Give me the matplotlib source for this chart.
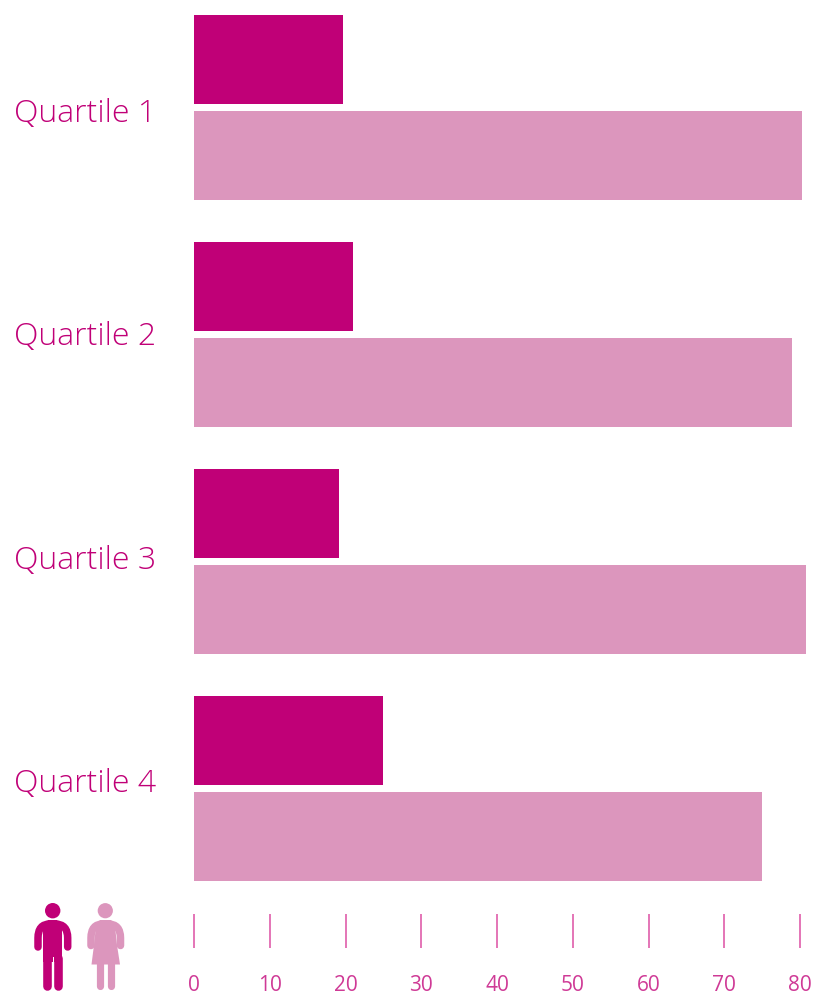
import matplotlib
matplotlib.use('Agg')
import matplotlib.pyplot as plt
from matplotlib.patches import Circle, Polygon, PathPatch
from matplotlib.path import Path

quartiles = ['Quartile 1', 'Quartile 2', 'Quartile 3', 'Quartile 4']
men = [19.7, 21.0, 19.2, 25.0]
women = [80.3, 79.0, 80.8, 75.0]
xticks = [0, 10, 20, 30, 40, 50, 60, 70, 80]

dark = '#c00077'
light = '#dc96bd'
text_col = '#c4107f'
tick_text = '#cf3a96'
tick_col = '#dc4fa3'

W, H = 813, 996
plt.rcParams['font.family'] = ['Open Sans', 'DejaVu Sans']

fig = plt.figure(figsize=(W / 100, H / 100), dpi=100)

# main axes: x=0 sits at px 194, 80 at px 800
left = 194
bottom = 914
ax = fig.add_axes([left / W, 1 - bottom / H, (W - left) / W, bottom / H])
ax.set_xlim(0, (W - left) / 7.575)
pitch = 227
ax.set_ylim((bottom - 107.5) / pitch, -107.5 / pitch)

bar_h = 89 / pitch
off = 48 / pitch
for i in range(len(quartiles)):
    ax.barh(i - off, men[i], height=bar_h, color=dark)
    ax.barh(i + off, women[i], height=bar_h, color=light)

for s in ax.spines.values():
    s.set_visible(False)
ax.set_xticks(xticks)
ax.set_xticklabels([str(v) for v in xticks])
ax.tick_params(axis='x', length=24.5, width=1.1, color=tick_col, labelcolor=tick_text,
               labelsize=15, pad=19.5)

# the labels in the source are spaced a little tighter than the bars
ax.set_yticks([(2.5 + 223.3 * i) / pitch for i in range(len(quartiles))])
ax.set_yticklabels(quartiles)
ax.tick_params(axis='y', length=0, labelcolor=dark, labelsize=23, pad=27.5)
for t in ax.get_yticklabels():
    t.set_fontweight('light')

# icons, in pixel coords
ic = fig.add_axes([0, 0, 1, 1], zorder=3)
ic.set_xlim(0, W)
ic.set_ylim(H, 0)
ic.axis('off')
lw_px = 0.72


def stroke(xs, ys, w, col):
    ic.plot(xs, ys, color=col, lw=w * lw_px, solid_capstyle='round', solid_joinstyle='round')


def arm(x_out, y_end, x_in, col):
    p = Path([(x_out, y_end), (x_out, 938), (x_out, 924), (x_in, 924)],
             [Path.MOVETO, Path.LINETO, Path.CURVE3, Path.CURVE3])
    ic.add_patch(PathPatch(p, fc='none', ec=col, lw=7.5 * lw_px, capstyle='round'))


# man
ic.add_patch(Circle((52.7, 910.7), 7.7, color=dark, lw=0))
ic.add_patch(Polygon([(43, 927), (48, 920), (57, 920), (62, 927), (62, 962), (43, 962)], color=dark, lw=0))
arm(38, 947, 50, dark)
arm(67.7, 947, 55, dark)
stroke([47.3, 47.3], [958, 986], 8.6, dark)
stroke([58, 58], [958, 986], 8.6, dark)
ic.plot([52.7, 52.7], [957, 990], color='white', lw=1.0 * lw_px)

# woman
ic.add_patch(Circle((105.3, 910.7), 7.6, color=light, lw=0))
ic.add_patch(Polygon([(96, 926), (100, 920), (111, 920), (115, 926), (117, 945), (120, 964.5), (91.5, 964.5), (94, 945)],
                     color=light, lw=0))
arm(91, 945.5, 103, light)
arm(120.5, 945.5, 108, light)
stroke([100.2, 100.2], [962, 985.5], 7.2, light)
stroke([111, 111], [962, 985.5], 7.2, light)

fig.savefig('out.png', dpi=100)
